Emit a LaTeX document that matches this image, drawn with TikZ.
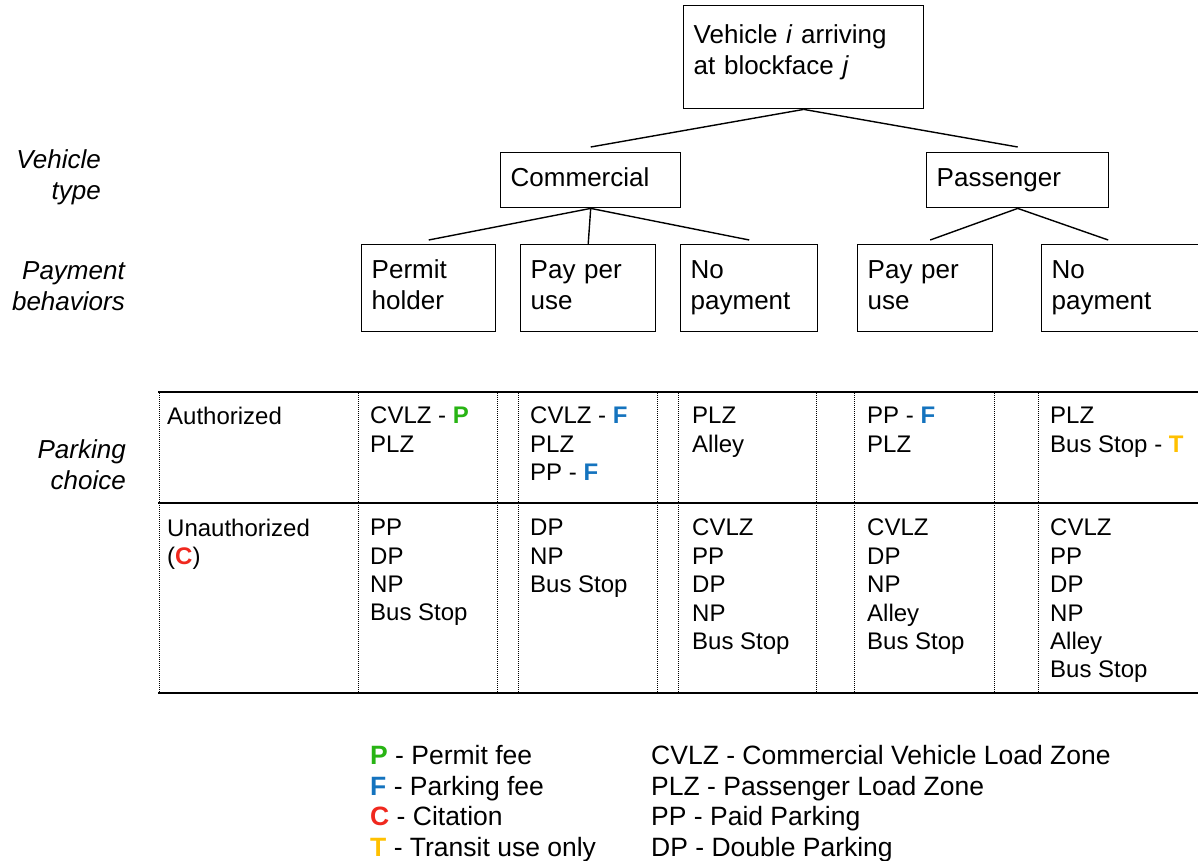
\documentclass[tikz,border=0pt]{standalone}
\usepackage{fontspec}
\setmainfont{Liberation Sans}
\definecolor{pgreen}{RGB}{40, 180, 20}
\definecolor{fblue}{RGB}{20, 115, 190}
\definecolor{cred}{RGB}{240, 40, 30}
\definecolor{tyellow}{RGB}{255, 192, 0}
\newcommand{\treefont}{\fontsize{26}{31}\selectfont}
\newcommand{\cellfont}{\fontsize{24}{28.4}\selectfont}
\newcommand{\keyfont}{\fontsize{26.5}{30.7}\selectfont}
\newcommand{\feeP}{\textcolor{pgreen}{\textbf{P}}}
\newcommand{\feeF}{\textcolor{fblue}{\textbf{F}}}
\newcommand{\feeC}{\textcolor{cred}{\textbf{C}}}
\newcommand{\feeT}{\textcolor{tyellow}{\textbf{T}}}
\tikzset{box/.style = {draw, line width = 1.4pt, anchor = north west, inner xsep = 10pt, align = left, font = \treefont,
    execute at begin node = \strut, execute at end node = \strut}}
\tikzset{branch/.style = {line width = 1.4pt}}
\tikzset{levelname/.style = {anchor = east, align = right, inner sep = 0, font = \treefont\itshape}}
\tikzset{rule/.style = {line width = 2.3pt}}
\tikzset{sep/.style = {line width = 0.8pt, dash pattern = on 0.9pt off 1.1pt}}
\tikzset{cell/.style = {anchor = north west, align = left, inner sep = 0, font = \cellfont}}
\tikzset{key/.style = {anchor = north west, align = left, inner sep = 0, font = \keyfont}}
\begin{document}
\begin{tikzpicture}[x = 1pt, y = -1pt]
      \useasboundingbox (0, 0) rectangle (1198, 861);

      \node [box, text width = 220pt, minimum height = 103pt, text height = 13pt] (root) at (683, 5) {Vehicle \textit{i} arriving\\at blockface \textit{j}};

      \node [box, text width = 160pt, minimum height = 55pt] (comm) at (500, 152) {Commercial};
      \node [box, text width = 162pt, minimum height = 55pt] (pass) at (926, 152) {Passenger};

      \node [box, text width = 114pt, minimum height = 87pt] (permit) at (361, 244) {Permit\\holder};
      \node [box, text width = 115pt, minimum height = 87pt] (cpay) at (520, 244) {Pay per\\use};
      \node [box, text width = 117pt, minimum height = 87pt] (cnopay) at (680, 244) {No\\payment};
      \node [box, text width = 115pt, minimum height = 87pt] (ppay) at (857, 244) {Pay per\\use};
      \node [box, text width = 145pt, minimum height = 87pt] (pnopay) at (1041, 244) {No\\payment};

      \draw [branch] (root.south) -- ([yshift = 5pt] comm.north);
      \draw [branch] (root.south) -- ([yshift = 5pt] pass.north);

      \draw [branch] (comm.south) -- ([yshift = 4pt] permit.north);
      \draw [branch] (comm.south) -- (cpay.north);
      \draw [branch] (comm.south) -- ([yshift = 4pt] cnopay.north);
      \draw [branch] (pass.south) -- ([xshift = 5pt, yshift = 4pt] ppay.north);
      \draw [branch] (pass.south) -- ([xshift = -16pt, yshift = 4pt] pnopay.north);

      \node [levelname] (vtype) at (101, 177) {Vehicle\\type};
      \node [levelname] (paybeh) at (125, 286) {Payment\\behaviors};
      \node [levelname] (pchoice) at (126, 465) {Parking\\choice};

      \draw [rule] (158, 392) -- (1198, 392);
      \draw [rule] (158, 503) -- (1198, 503);
      \draw [rule] (158, 693) -- (1198, 693);
      \foreach \x in {159, 358, 497, 518, 657, 678, 816, 854, 994, 1038}
        \draw [sep] (\x, 393) -- (\x, 692);

      \node [cell] (auth) at (167, 407) {Authorized};
      \node [cell] (auth1) at (370, 407) {CVLZ - \feeP\\PLZ};
      \node [cell] (auth2) at (530, 407) {CVLZ - \feeF\\PLZ\\PP - \feeF};
      \node [cell] (auth3) at (692, 407) {PLZ\\Alley};
      \node [cell] (auth4) at (867, 407) {PP - \feeF\\PLZ};
      \node [cell] (auth5) at (1050, 407) {PLZ\\Bus Stop - \feeT};

      \node [cell] (unauth) at (167, 519) {Unauthorized\\(\feeC)};
      \node [cell] (unauth1) at (370, 519) {PP\\DP\\NP\\Bus Stop};
      \node [cell] (unauth2) at (530, 519) {DP\\NP\\Bus Stop};
      \node [cell] (unauth3) at (692, 519) {CVLZ\\PP\\DP\\NP\\Bus Stop};
      \node [cell] (unauth4) at (867, 519) {CVLZ\\DP\\NP\\Alley\\Bus Stop};
      \node [cell] (unauth5) at (1050, 519) {CVLZ\\PP\\DP\\NP\\Alley\\Bus Stop};

      \node [key] (feekey) at (370, 745) {\feeP\ - Permit fee\\\feeF\ - Parking fee\\\feeC\ - Citation\\\feeT\ - Transit use only};
      \node [key] (zonekey) at (651, 745) {CVLZ - Commercial Vehicle Load Zone\\PLZ - Passenger Load Zone\\PP - Paid Parking\\DP - Double Parking};
    \end{tikzpicture}
\end{document}
